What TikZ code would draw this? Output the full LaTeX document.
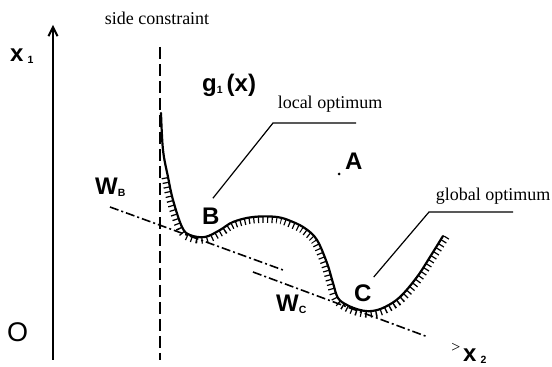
\documentclass[tikz,border=0pt]{standalone}
\usepackage{fontspec}
\setmainfont{Liberation Serif}
\newfontfamily\arial{Liberation Sans}
\usetikzlibrary{arrows.meta,positioning}
\newcommand{\lsub}[1]{\raisebox{-2pt}{\fontsize{10.5}{11}\selectfont #1}}

\begin{document}
\begin{tikzpicture}[
    x=1pt,y=1pt,
    note/.style={font=\fontsize{18}{20}\selectfont,inner sep=0pt,anchor=base},
    lbl/.style={font=\arial\bfseries\fontsize{24}{25}\selectfont,inner sep=0pt,anchor=base west},
    axis/.style={line width=2pt,-{Straight Barb[length=9pt,width=9pt]}},
    constraint/.style={line width=2pt,dash pattern=on 12pt off 5pt},
    curve/.style={line width=2.2pt,line cap=round},
    hatch/.style={line width=13pt,dash pattern=on 1.2pt off 3.5pt},
    tangent/.style={line width=1.6pt,dash pattern=on 9pt off 3pt on 2pt off 3pt},
    leader/.style={line width=1.2pt}
]
\useasboundingbox (0,0) rectangle (552,367);

% axes and side constraint
\coordinate (ax0) at (53,7);
\coordinate (ax1) at (53,342);
\draw[axis] (ax0) -- (ax1);
\coordinate (sc0) at (160,320);
\coordinate (sc1) at (160,7);
\draw[constraint] (sc0) -- (sc1);

\node[lbl] (x1) at (10,305) {x\,\lsub{1}};
\node[lbl] (x2) at (463,5) {x\,\lsub{2}};
\node[font=\fontsize{16}{16}\selectfont,inner sep=0pt,anchor=base] (x2tip) at (456,14) {>};
\node[font=\arial\fontsize{27}{27}\selectfont,inner sep=0pt,anchor=base west] (orig) at (7,25) {O};
\node[note] (side) at (157,342) {side constraint};

% constraint g1(x), hatched on its infeasible side
\begin{scope}
\clip plot[smooth,tension=0.6] coordinates {
    (161,254) (163,217) (168,190) (173,167) (182,140) (190,132) (205,130)
    (220,137) (233,145) (253,150) (277,150) (293,145) (306,138) (317,127)
    (327,104) (333,84) (338,69) (347,62) (360,57) (372,56) (385,60)
    (400,70) (417,90) (430,110) (443,131)}
    -- (470,131) -- (470,0) -- (140,0) -- (140,254) -- cycle;
\draw[hatch] plot[smooth,tension=0.6] coordinates {
    (168,190) (173,167) (182,140) (190,132) (205,130)
    (220,137) (233,145) (253,150) (277,150) (293,145) (306,138) (317,127)
    (327,104) (333,84) (338,69) (347,62) (360,57) (372,56) (385,60)
    (400,70) (417,90) (430,110) (445,134)};
\end{scope}
\draw[curve] plot[smooth,tension=0.6] coordinates {
    (161,254) (163,217) (168,190) (173,167) (182,140) (190,132) (205,130)
    (220,137) (233,145) (253,150) (277,150) (293,145) (306,138) (317,127)
    (327,104) (333,84) (338,69) (347,62) (360,57) (372,56) (385,60)
    (400,70) (417,90) (430,110) (443,131)};
\node[lbl] (g1) at (202,275) {g\lsub{1}\,(x)};

% objective lines
\coordinate (wb0) at (110,160);
\coordinate (wb1) at (283,97);
\draw[tangent] (wb0) -- (wb1);
\coordinate (wc0) at (253,95);
\coordinate (wc1) at (428,30);
\draw[tangent] (wc0) -- (wc1);
\node[lbl] (WB) at (95,172) {W\lsub{B}};
\node[lbl] (WC) at (276,55) {W\lsub{C}};

% points
\node[circle,fill,inner sep=0pt,minimum size=3pt] (ptA) at (339,193) {};
\node[lbl] (A) at (345,197) {A};
\node[lbl] (B) at (202,142) {B};
\node[lbl] (C) at (354,65) {C};

% optima
\node[note] (lopt) at (330,258) {local optimum};
\coordinate (lb) at (273,244);
\coordinate (le) at (356,244);
\draw[leader] ([shift={(2pt,10pt)}]B.north) -- (lb) -- (le);
\node[note] (gopt) at (493,166) {global optimum};
\coordinate (gb) at (429,155);
\coordinate (ge) at (513,155);
\draw[leader] ([shift={(2pt,8pt)}]C.north east) -- (gb) -- (ge);
\end{tikzpicture}
\end{document}
